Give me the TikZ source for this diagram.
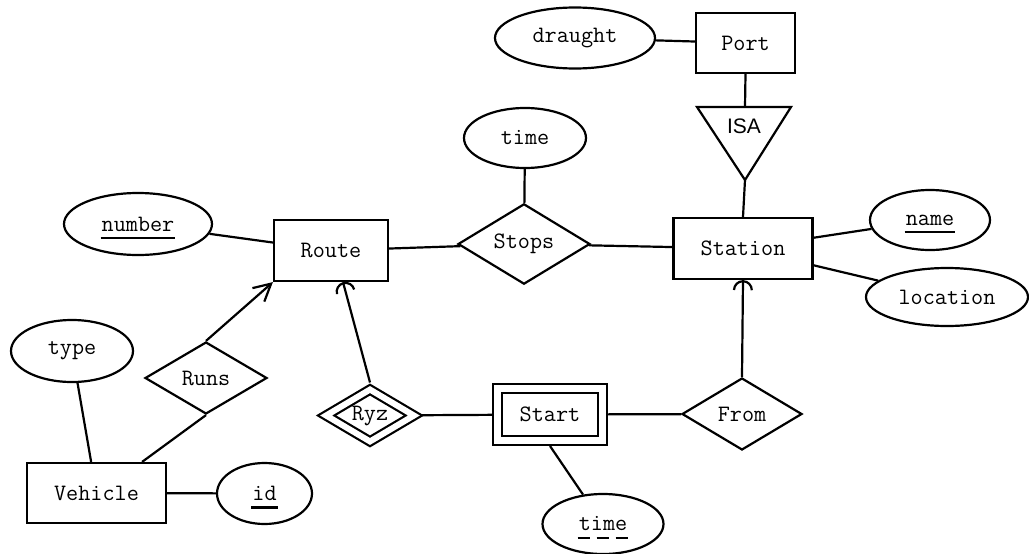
\documentclass[tikz,border=0pt]{standalone}
\usepackage{fontspec}
\newfontfamily\arialfont{Liberation Sans}
\usetikzlibrary{shapes.geometric,arrows.meta,calc}
\begin{document}
\begin{tikzpicture}[x=1pt,y=-1pt,
  every node/.style={font=\ttfamily\fontsize{23.5}{27}\selectfont, line width=2.2pt},
  sz/.style 2 args={minimum width=#1, minimum height=#2},
  ent/.style={draw, rectangle, inner sep=0pt},
  attr/.style={draw, ellipse, inner sep=0pt},
  rel/.style={draw, diamond, inner sep=0pt},
  txt/.style={inner sep=0pt},
  conn/.style={line width=2.2pt},
  ul/.style={line width=2.7pt},
  dul/.style={line width=2.7pt, dash pattern=on 12pt off 7pt},
  isatxt/.style={inner sep=0pt, font=\arialfont\fontsize{21}{25}\selectfont},
  openarrow/.style={-{Straight Barb[length=17pt,width=18pt]}},
  roundarrow/.style={-{Arc Barb[length=10pt,width=20pt]}}]
\useasboundingbox (0,0) rectangle (1029,554);
% entities
\node[ent, sz={99}{60}] (Port) at (745.5,43) {Port};
\node[ent, sz={139}{61}] (Station) at (743,248.5) {Station};
\node[ent, sz={114}{61}] (Route) at (331,250.5) {Route};
\node[ent, sz={139}{60}] (Vehicle) at (96.5,493) {Vehicle};
\node[ent, double, double distance=7pt, outer sep=5.5pt, sz={105}{52}] (Start) at (550,414.5) {Start};
% relationships
\node[rel, sz={132}{80}] (Stops) at (524,244) {Stops};
\node[rel, sz={122}{72}] (Runs) at (206,378) {Runs};
\node[rel, double, double distance=6pt, outer sep=5pt, sz={92}{56}] (Ryz) at (370,415.5) {Ryz};
\node[rel, sz={120}{72}] (From) at (742,414) {From};
% ISA triangle
\coordinate (isaL) at (697,107);
\coordinate (isaR) at (791,107);
\coordinate (isaTop) at (745,107);
\coordinate (isaApex) at (745,180);
\draw[conn, line join=miter] (isaL) -- (isaR) -- (isaApex) -- cycle;
\node[isatxt] (ISA) at (744,126) {ISA};
% attributes
\node[attr, sz={160}{61}] (draught) at (575,38) {draught};
\node[attr, sz={120}{60}] (name) at (930,220) {};
\node[txt] (nameT) at (name) {name};
\node[attr, sz={162}{58}] (location) at (947,297) {location};
\node[attr, sz={122}{60}] (time1) at (525,138) {time};
\node[attr, sz={148}{62}] (number) at (138,224) {};
\node[txt] (numberT) at (number) {number};
\node[attr, sz={122}{62}] (type) at (72,351) {type};
\node[attr, sz={95}{61}] (id) at (264.5,493.5) {};
\node[txt] (idT) at (id) {id};
\node[attr, sz={121}{60}] (time2) at (603,524) {};
\node[txt] (time2T) at (time2) {time};
% underlines
\draw[ul] ([yshift=-7pt]nameT.base west) -- ([yshift=-7pt]nameT.base east);
\draw[ul] ([yshift=-7pt]numberT.base west) -- ([yshift=-7pt]numberT.base east);
\draw[ul] ([yshift=-7pt]idT.base west) -- ([yshift=-7pt]idT.base east);
\draw[dul] ([yshift=-7pt]time2T.base west) -- ([yshift=-7pt]time2T.base east);
% connectors
\draw[conn] (draught) -- (Port);
\draw[conn] (Port.south) -- (isaTop);
\draw[conn] (isaApex) -- (Station.north);
\draw[conn] (Station) -- (name);
\draw[conn] (Station) -- (location);
\draw[conn] (Route) -- (Stops);
\draw[conn] (Stops) -- (Station);
\draw[conn] (time1) -- (Stops);
\draw[conn] (number) -- (Route);
\draw[conn, openarrow] (Runs.north) -- (Route.south west);
\draw[conn] (type) -- (Vehicle);
\draw[conn] (Runs.south) -- ([xshift=-25pt]Vehicle.north east);
\draw[conn] (Vehicle) -- (id);
\draw[conn, roundarrow] (Ryz.north) -- ([xshift=12pt]Route.south);
\draw[conn] (Ryz) -- (Start);
\draw[conn] (Start) -- (From);
\draw[conn, roundarrow] (From.north) -- (Station.south);
\draw[conn] (Start.south) -- (time2);
\end{tikzpicture}
\end{document}
